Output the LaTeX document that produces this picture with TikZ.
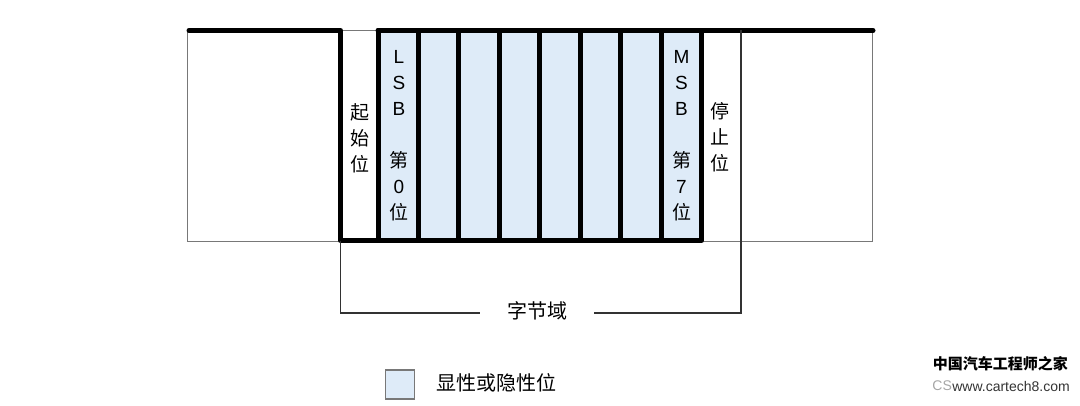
\documentclass[tikz,border=0pt]{standalone}
\usepackage{fontspec}
\setmainfont{Liberation Sans}
\newfontfamily\cjk{Noto Sans CJK SC}
\definecolor{bitblue}{RGB}{222,235,248}
\definecolor{framegray}{RGB}{120,120,120}
\definecolor{brk}{RGB}{50,50,50}
\begin{document}
\begin{tikzpicture}[x=1pt,y=-1pt,
  thickline/.style={line width=5pt,line cap=round,line join=round},
  cell/.style={draw,fill=bitblue,line width=5pt,line join=round,minimum width=40.44pt,minimum height=210pt,inner sep=0pt,outer sep=0pt},
  lbl/.style={align=center,font=\fontsize{19}{26}\selectfont,inner sep=0pt},
  thin/.style={draw=framegray,line width=1pt},
  bracket/.style={draw=brk,line width=1.2pt}]
\useasboundingbox (0,0) rectangle (1080,405);
% thin frame
\draw[thin] (187,30) rectangle (872,241);
% cells
\foreach \i in {0,...,7}{
  \node[cell] (c\i) at ({378+40.44*\i+20.22},135.5) {};
}
% thick signal line
\coordinate (s0) at (189,30.5);
\coordinate (s1) at (340.5,30.5);
\coordinate (s2) at (340.5,240.5);
\coordinate (e1) at (873,30.5);
\draw[thickline] (s0) -- (s1) -- (s2) -- (c0.south west);
\draw[thickline] (c0.north west) -- (e1);
% labels
\node[lbl] (start) at (360,138) {{\cjk 起}\\{\cjk 始}\\{\cjk 位}};
\node[lbl] (lsb) at (399,136) {L\\S\\B\\[26pt]{\cjk 第}\\0\\{\cjk 位}};
\node[lbl] (msb) at (681.5,136) {M\\S\\B\\[26pt]{\cjk 第}\\7\\{\cjk 位}};
\node[lbl] (stop) at (720,137) {{\cjk 停}\\{\cjk 止}\\{\cjk 位}};
% byte-field bracket
\node[font=\cjk\fontsize{20}{24}\selectfont,inner sep=0pt] (field) at (537,311) {字节域};
\coordinate (b0) at (340.5,240.5);
\coordinate (b1) at (340.5,313);
\coordinate (b2) at (480,313);
\coordinate (b3) at (594,313);
\coordinate (b4) at (741,313);
\coordinate (b5) at (741,30);
\draw[bracket] (b0) -- (b1) -- (b2);
\draw[bracket] (b3) -- (b4) -- (b5);
% legend
\node[draw=framegray,fill=bitblue,line width=1.3pt,minimum width=29pt,minimum height=29pt,inner sep=0pt] (leg) at (400,384.5) {};
\node[anchor=west,font=\cjk\fontsize{20}{24}\selectfont,inner sep=0pt] (legtxt) at (436,383) {显性或隐性位};
% watermark
\node[anchor=east,font=\cjk\bfseries\fontsize{15}{18}\selectfont,inner sep=0pt] (wm1) at (1068,364) {中国汽车工程师之家};
\node[anchor=east,font=\fontsize{14}{16}\selectfont,inner sep=0pt,text=black!80] (wm2) at (1070,386) {www.cartech8.com};
\node[anchor=east,font=\fontsize{14}{16}\selectfont,inner sep=0pt,text=black!35] (wm3) at (wm2.west) {CS};
\end{tikzpicture}
\end{document}
